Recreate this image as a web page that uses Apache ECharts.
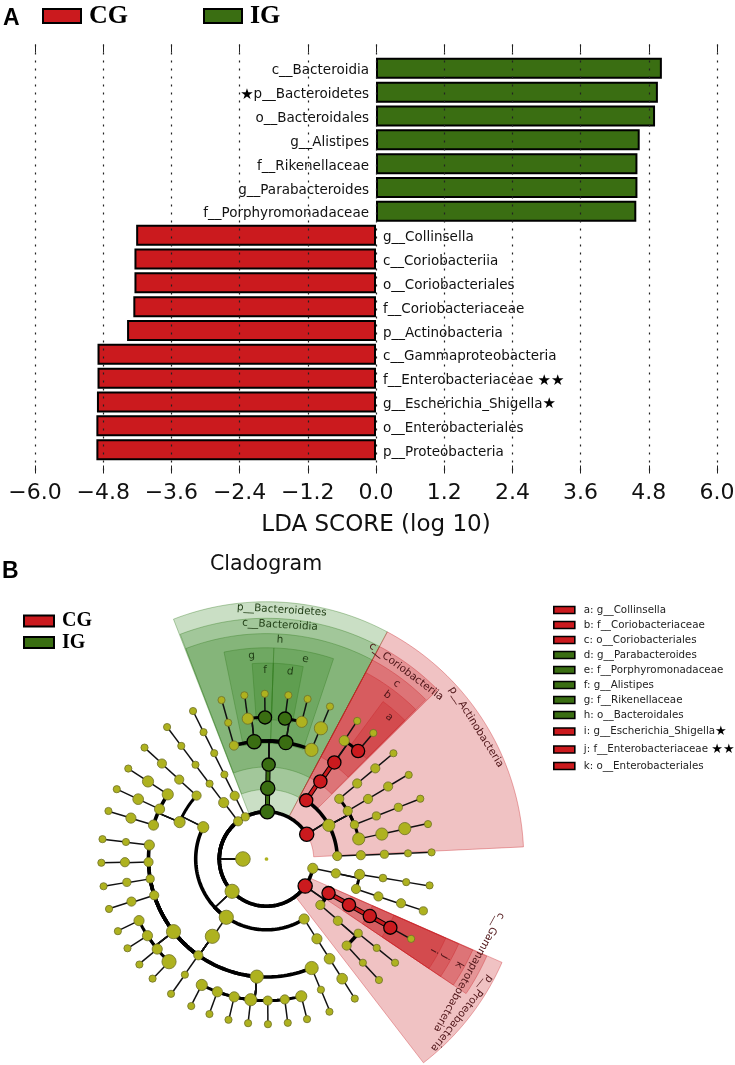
<!DOCTYPE html>
<html>
<head>
<meta charset="utf-8">
<title>LDA score and cladogram</title>
<script src="https://cdn.jsdelivr.net/npm/echarts@6/dist/echarts.min.js"></script>
<style>
html, body { margin: 0; padding: 0; background: #fff; }
#main { width: 735px; height: 1065px; }
</style>
</head>
<body>
<div id="main"></div>
<script>
// panel A
var barNames = ["c__Bacteroidia", "p__Bacteroidetes", "o__Bacteroidales", "g__Alistipes", "f__Rikenellaceae",
	"g__Parabacteroides", "f__Porphyromonadaceae", "g__Collinsella", "c__Coriobacteriia", "o__Coriobacteriales",
	"f__Coriobacteriaceae", "p__Actinobacteria", "c__Gammaproteobacteria", "f__Enterobacteriaceae",
	"g__Escherichia_Shigella", "o__Enterobacteriales", "p__Proteobacteria"];
var barValues = [5.03, 4.96, 4.91, 4.64, 4.60, 4.60, 4.58, -4.22, -4.25, -4.25, -4.27, -4.38, -4.90, -4.90, -4.91, -4.92, -4.92];
var barStars = { "p__Bacteroidetes": 1, "f__Enterobacteriaceae": 2, "g__Escherichia_Shigella": 1 };
var legendGroups = ["CG", "IG"];

// panel B: id, parent, depth, angle (clockwise from north, 90..450), abundance, group
var cladeNodes = [
	["top", null, 0, 270, 2.5, "y"], ["r0", null, 1, 270, 13.5, "y"],
	["a1", "r0", 2, 226.8, 13, "y"], ["a2", "r0", 2, 101.4, 9, "y"], ["p1", "r0", 2, 125, 13, "r"],
	["a3", "r0", 2, 323, 8, "y"], ["a4", "r0", 2, 333.3, 7, "y"], ["G1", "r0", 2, 361, 13, "g"], ["A1", "r0", 2, 418.4, 13, "r"],
	// left half
	["b1", "a1", 3, 147.9, 9, "y"], ["b2", "a1", 3, 214.6, 13, "y"], ["b3", "a1", 3, 296.7, 10, "y"],
	["b1a", "b1", 4, 147.7, 9, "y"], ["b1b", "b1a", 5, 147.7, 9.5, "y"], ["b1c", "b1b", 6, 147.7, 9.5, "y"], ["b1d", "b1c", 7, 147.7, 6, "y"],
	["c1", "b2", 4, 215, 13, "y"],
	["d1", "c1", 5, 157.5, 12, "y"], ["d1a", "d1", 6, 157.4, 6, "y"], ["d1b", "d1a", 7, 157.6, 6, "y"],
	["d2", "c1", 5, 184.7, 12, "y"],
	["e1", "d2", 6, 165.8, 10, "y"], ["e2", "d2", 6, 172.6, 8, "y"], ["e3", "d2", 6, 179.5, 8, "y"], ["e4", "d2", 6, 186.4, 11, "y"],
	["e5", "d2", 6, 193.2, 9, "y"], ["e6", "d2", 6, 200.3, 9, "y"], ["e7", "d2", 6, 207.2, 10, "y"],
	["e1a", "e1", 7, 165.8, 6, "y"], ["e2a", "e2", 7, 172.6, 6, "y"], ["e3a", "e3", 7, 179.5, 6, "y"], ["e4a", "e4", 7, 186.4, 6, "y"],
	["e5a", "e5", 7, 193.3, 6, "y"], ["e6a", "e6", 7, 200.2, 6, "y"], ["e7a", "e7", 7, 207.1, 6, "y"],
	["d3", "c1", 5, 215.3, 8, "y"], ["d3a", "d3", 6, 215.2, 6, "y"], ["d3b", "d3a", 7, 215.3, 6, "y"],
	["d4", "c1", 5, 232, 13, "y"],
	["f1", "d4", 6, 223.5, 13, "y"], ["f2", "d4", 6, 230.5, 9, "y"], ["f3", "d4", 6, 237.2, 9, "y"], ["f4", "d4", 6, 244.2, 9, "y"],
	["f1a", "f1", 7, 223.6, 6, "y"], ["f2a", "f2", 7, 230.3, 6, "y"], ["f3a", "f3", 7, 237.3, 6, "y"], ["f4a", "f4", 7, 244.1, 6, "y"],
	["d5", "c1", 5, 252.1, 8, "y"], ["d5a", "d5", 6, 252.5, 8, "y"], ["d5b", "d5a", 7, 252.4, 6, "y"],
	["d6", "c1", 5, 260.3, 7, "y"], ["d6a", "d6", 6, 260.5, 7, "y"], ["d6b", "d6a", 7, 260.5, 6, "y"],
	["d7", "c1", 5, 268.5, 8, "y"], ["d7a", "d7", 6, 268.7, 8, "y"], ["d7b", "d7a", 7, 268.7, 6, "y"],
	["d8", "c1", 5, 276.8, 9, "y"], ["d8a", "d8", 6, 276.9, 6, "y"], ["d8b", "d8a", 7, 276.9, 6, "y"],
	["h1", "b3", 4, 293, 10, "y"], ["h2", "b3", 4, 312.2, 8, "y"],
	["i1", "h1", 5, 286.7, 9, "y"], ["i1a", "i1", 6, 286.8, 9, "y"], ["i1b", "i1a", 7, 286.9, 6, "y"],
	["i2", "h1", 5, 295, 9, "y"], ["i2a", "i2", 6, 295, 9.5, "y"], ["i2b", "i2a", 7, 295, 6, "y"],
	["i3", "h1", 5, 303.2, 10, "y"], ["i3a", "i3", 6, 303.2, 10, "y"], ["i3b", "i3a", 7, 303.2, 6, "y"],
	["j1", "h2", 5, 312.3, 8, "y"], ["j2", "j1", 6, 312.4, 8, "y"], ["j3", "j2", 7, 312.4, 6, "y"],
	["k1", "a3", 3, 322.8, 9, "y"], ["k2", "k1", 4, 322.9, 6, "y"], ["k3", "k2", 5, 323, 6, "y"], ["k4", "k3", 6, 323, 6, "y"], ["k5", "k4", 7, 323, 6, "y"],
	["l1", "a4", 3, 333.3, 8, "y"], ["l2", "l1", 4, 333.5, 6, "y"], ["l3", "l2", 5, 333.7, 6, "y"], ["l4", "l3", 6, 333.6, 6, "y"], ["l5", "l4", 7, 333.6, 6, "y"],
	// Bacteroidetes
	["G2", "G1", 3, 361, 13, "g"], ["G3", "G2", 4, 361.3, 12, "g"],
	["m1", "G3", 5, 344, 8, "y"], ["m1a", "m1", 6, 344.3, 6, "y"], ["m1b", "m1a", 7, 344.2, 6, "y"],
	["G4", "G3", 5, 354, 13, "g"], ["n1", "G4", 6, 352.4, 10, "y"], ["n1a", "n1", 7, 352.3, 6, "y"], ["n2", "G4", 6, 359.4, 12, "g"], ["n2a", "n2", 7, 359.4, 6, "y"],
	["G5", "G3", 5, 369.4, 13, "g"], ["n3", "G5", 6, 367.5, 12, "g"], ["n3a", "n3", 7, 367.6, 6, "y"], ["n4", "G5", 6, 374.4, 10, "y"], ["n4a", "n4", 7, 374.4, 6, "y"],
	["m2", "G3", 5, 382.4, 12, "y"], ["m2a", "m2", 6, 382.6, 12, "y"], ["m2b", "m2a", 7, 382.6, 6, "y"],
	// Actinobacteria
	["A2", "A1", 3, 394.1, 12, "r"], ["A3", "A2", 4, 394.8, 12, "r"], ["A4", "A3", 5, 395.1, 12, "r"],
	["o1", "A4", 6, 393.3, 9, "y"], ["o1a", "o1", 7, 393.3, 6, "y"], ["A5", "A4", 6, 400.3, 12, "r"], ["o2", "A5", 7, 400.3, 6, "y"],
	["q1", "A1", 3, 421.6, 11, "y"],
	["q2", "q1", 4, 410.4, 8, "y"], ["q2a", "q2", 5, 410.2, 8, "y"], ["q2b", "q2a", 6, 410.2, 8, "y"], ["q2c", "q2b", 7, 410.2, 6, "y"],
	["q3", "q1", 4, 419.4, 8, "y"], ["q3a", "q3", 5, 419.4, 8, "y"], ["q3b", "q3a", 6, 419.2, 8, "y"], ["q3c", "q3b", 7, 419.4, 6, "y"],
	["q4", "q1", 4, 428.7, 7, "y"], ["q4a", "q4", 5, 428.6, 7, "y"], ["q4b", "q4a", 6, 428.6, 7, "y"], ["q4c", "q4b", 7, 428.6, 6, "y"],
	["q5", "q1", 4, 437.7, 11, "y"], ["q5a", "q5", 5, 437.8, 11, "y"], ["q5b", "q5a", 6, 437.6, 11, "y"], ["q5c", "q5b", 7, 437.8, 6, "y"],
	["s1", "A1", 3, 447.6, 8, "y"], ["s2", "s1", 4, 447.7, 8, "y"], ["s3", "s2", 5, 447.7, 7, "y"], ["s4", "s3", 6, 447.7, 6, "y"], ["s5", "s4", 7, 447.7, 6, "y"],
	// right lower
	["t1", "a2", 3, 101.7, 8, "y"], ["t2", "t1", 4, 99.4, 9, "y"], ["t2a", "t2", 5, 99.3, 6.5, "y"], ["t2b", "t2a", 6, 99.4, 6, "y"], ["t2c", "t2b", 7, 99.2, 6, "y"],
	["t3", "t1", 4, 108.5, 8, "y"], ["t3a", "t3", 5, 108.5, 8, "y"], ["t3b", "t3a", 6, 108.2, 8, "y"], ["t3c", "t3b", 7, 108.3, 7, "y"],
	// Proteobacteria
	["P2", "p1", 3, 118.8, 12, "r"], ["P3", "P2", 4, 119.1, 12, "r"], ["P4", "P3", 5, 118.9, 12, "r"], ["P5", "P4", 6, 119, 12, "r"], ["u0", "P5", 7, 118.9, 6, "y"],
	["u1", "p1", 3, 130.5, 8, "y"], ["u2", "u1", 4, 130.9, 8, "y"],
	["u3", "u2", 5, 129, 7, "y"], ["u3a", "u3", 6, 128.9, 6, "y"], ["u3b", "u3a", 7, 128.9, 6, "y"],
	["u4", "u2", 5, 137.2, 8, "y"], ["u4a", "u4", 6, 137.1, 6, "y"], ["u4b", "u4a", 7, 137.1, 6, "y"]
];

// label, legend name, inner depth, outer depth, from angle, to angle, group, label depth, label angle
var cladeWedges = [
	["p__Bacteroidetes", "", 2, 10.9, 338.8, 388, "g", 10.57, 363.5],
	["c__Bacteroidia", "", 2.95, 10.2, 339, 388, "g", 9.93, 363.3],
	["h", "h: o__Bacteroidales", 3.9, 9.55, 339, 388, "g", 9.3, 363.5],
	["g", "g: f__Rikenellaceae", 4.9, 8.95, 348.4, 362, "g", 8.63, 355.8],
	["e", "e: f__Porphyromonadaceae", 4.9, 8.95, 362, 378.5, "g", 8.63, 371],
	["f", "f: g__Alistipes", 5.9, 8.3, 355.8, 362, "g", 8, 359.6],
	["d", "d: g__Parabacteroides", 5.9, 8.3, 362, 370.8, "g", 8, 367.2],
	["p__Actinobacteria", "", 2, 10.9, 388, 447.3, "r", 10.5, 417.8],
	["c__Coriobacteriia", "", 2.95, 10.2, 388, 405.3, "r", 9.9, 396.7],
	["c", "c: o__Coriobacteriales", 3.9, 9.55, 388, 405, "r", 9.25, 396.6],
	["b", "b: f__Coriobacteriaceae", 4.9, 8.95, 388, 405, "r", 8.63, 396.4],
	["a", "a: g__Collinsella", 6, 8.3, 396.5, 405, "r", 7.95, 400.9],
	["p__Proteobacteria", "", 2, 10.9, 113.7, 142.4, "r", 10.55, 128.3],
	["c__Gammaproteobacteria", "", 2.95, 10.2, 113.8, 124, "r", 9.83, 119.2],
	["k", "k: o__Enterobacteriales", 3.9, 9.55, 113.8, 124, "r", 9.3, 118.8],
	["j", "j: f__Enterobacteriaceae", 4.9, 8.9, 113.8, 124, "r", 8.63, 118.8],
	["i", "i: g__Escherichia_Shigella", 5.9, 8.3, 113.8, 124, "r", 8.07, 118.8]
];
var cladeLegend = ["a: g__Collinsella", "b: f__Coriobacteriaceae", "c: o__Coriobacteriales", "d: g__Parabacteroides",
	"e: f__Porphyromonadaceae", "f: g__Alistipes", "g: f__Rikenellaceae", "h: o__Bacteroidales",
	"i: g__Escherichia_Shigella", "j: f__Enterobacteriaceae", "k: o__Enterobacteriales"];
var cladeStars = { "i: g__Escherichia_Shigella": "{s|★}", "j: f__Enterobacteriaceae": " {s|★★}" };

var RED = "#cb1a1e", GREEN = "#3a6e12", OLIVE = "#aeb21f";
var groupColor = { r: RED, g: GREEN, y: OLIVE };
var wedgeFill = { r: "rgba(200,30,35,0.27)", g: "rgba(50,130,30,0.26)" };
var wedgeEdge = { r: "rgba(200,30,35,0.35)", g: "rgba(50,120,30,0.35)" };
var wedgeText = { r: "#4f1518", g: "#1f3d14" };

var byId = {};
cladeNodes.forEach(function (n) { byId[n[0]] = n; });

function barLabel(params) {
	var name = params.name, n = barStars[name];
	if (!n) return name;
	if (params.value > 0) return "{s|★}" + name;
	return n == 2 ? name + " {s|★★}" : name + "{s|★}";
}

function barSeries(name, color, keep, pos) {
	return {
		name: name, type: "bar", stack: "lda", barWidth: 21,
		xAxisIndex: 0, yAxisIndex: 0,
		itemStyle: { color: color, borderColor: "#000", borderWidth: 2 },
		label: {
			show: true, position: pos, distance: 7, color: "#111", fontSize: 13.5, offset: [0, 2.5],
			fontFamily: "DejaVu Sans", formatter: barLabel,
			rich: { s: { fontSize: 15, color: "#000", fontFamily: "DejaVu Sans" } }
		},
		data: [null].concat(barValues.map(function (v) { return keep(v) ? v : null; }), [null])
	};
}

function renderWedge(w) {
	return function (params, api) {
		var pts = [], a;
		for (a = w[4]; a < w[5]; a += 1.5) pts.push(api.coord([w[3], a]));
		pts.push(api.coord([w[3], w[5]]));
		for (a = w[5]; a > w[4]; a -= 1.5) pts.push(api.coord([w[2], a]));
		pts.push(api.coord([w[2], w[4]]));
		var at = api.coord([w[7], w[8]]);
		return {
			type: "group",
			children: [
				{ type: "polygon", shape: { points: pts }, style: { fill: wedgeFill[w[6]], stroke: wedgeEdge[w[6]], lineWidth: 1 } },
				{
					type: "text", x: at[0], y: at[1], rotation: -w[8] * Math.PI / 180,
					style: { text: w[0], fill: wedgeText[w[6]], fontSize: 10.5, fontFamily: "DejaVu Sans", textAlign: "center", textVerticalAlign: "middle" }
				}
			]
		};
	};
}

// radial out of the parent, then along the ring of the child
function renderLink(params, api) {
	var n = cladeNodes[api.value(2)], p = byId[n[1]];
	if (!p) return null;
	var kids = [];
	var pa = p[3], ca = n[3], d = n[2];
	var chain = Math.abs(pa - ca) < 1.5 && n[5] != "y" && p[5] != "y";
	var radial = [api.coord([p[2], pa]), api.coord([d, pa])];
	if (chain) {
		kids.push({ type: "polyline", shape: { points: radial }, style: { stroke: "#000", lineWidth: 5, fill: null } });
		kids.push({ type: "polyline", shape: { points: radial }, style: { stroke: groupColor[n[5]], lineWidth: 3, fill: null } });
	} else {
		kids.push({ type: "polyline", shape: { points: radial }, style: { stroke: "#111", lineWidth: 1.5, fill: null } });
	}
	if (Math.abs(pa - ca) >= 0.6) {
		var pts = [], step = ca > pa ? 1.5 : -1.5, a;
		for (a = pa; (ca - a) * step > 0; a += step) pts.push(api.coord([d, a]));
		pts.push(api.coord([d, ca]));
		kids.push({
			type: "polyline", shape: { points: pts },
			style: { stroke: "#000", lineWidth: d == 4 || d == 6 ? 3 : 3.6, fill: null, lineCap: "round" }
		});
	}
	return { type: "group", children: kids };
}

var series = [
	barSeries("CG", RED, function (v) { return v < 0; }, "right"),
	barSeries("IG", GREEN, function (v) { return v > 0; }, "left")
];

cladeWedges.forEach(function (w, i) {
	series.push({
		name: w[1] || w[0], type: "custom", coordinateSystem: "polar", z: 1 + i * 0.01, silent: true,
		itemStyle: { color: groupColor[w[6]] },
		renderItem: renderWedge(w),
		data: [[w[3], w[4]]]
	});
});

series.push({
	name: "links", type: "custom", coordinateSystem: "polar", z: 3, silent: true,
	renderItem: renderLink,
	data: cladeNodes.map(function (n, i) { return [n[2], n[3], i]; })
});

series.push({
	name: "nodes", type: "scatter", coordinateSystem: "polar", z: 4, silent: true,
	symbolSize: function (v) { return v[2] + 1.2; },
	data: cladeNodes.map(function (n) {
		return {
			value: [n[2], n[3], n[4]],
			itemStyle: {
				color: groupColor[n[5]], opacity: 1,
				borderColor: n[5] == "y" ? "#6f7028" : "#000",
				borderWidth: n[5] == "y" ? (n[2] == 0 ? 0 : 0.8) : 1.3
			}
		};
	})
});

var chart = echarts.init(document.getElementById("main"), null, { renderer: "canvas" });
chart.setOption({
	animation: false,
	backgroundColor: "#fff",
	textStyle: { fontFamily: "DejaVu Sans" },
	title: {
		text: "Cladogram", left: 205, top: 549,
		textStyle: { fontSize: 20.5, fontWeight: "normal", color: "#111", fontFamily: "DejaVu Sans" }
	},
	legend: [
		{
			data: legendGroups, icon: "rect", left: 42, top: 3, padding: 0, itemGap: 75, itemWidth: 38, itemHeight: 14, selectedMode: false,
			itemStyle: { borderColor: "#000", borderWidth: 2 },
			textStyle: { fontFamily: "Liberation Serif", fontWeight: "bold", fontSize: 26, color: "#000", padding: [0, 0, 0, 3] }
		},
		{
			data: legendGroups, icon: "rect", orient: "vertical", left: 23, top: 611, padding: 0, itemGap: 1.5, itemWidth: 30, itemHeight: 11, selectedMode: false,
			itemStyle: { borderColor: "#000", borderWidth: 2 },
			textStyle: { fontFamily: "Liberation Serif", fontWeight: "bold", fontSize: 20, color: "#000", padding: [0, 0, 0, 3] }
		},
		{
			data: cladeLegend, icon: "rect", orient: "vertical", left: 553, top: 605, padding: 0, itemGap: 5, itemWidth: 21, itemHeight: 7, selectedMode: false,
			itemStyle: { borderColor: "#000", borderWidth: 1.6 },
			textStyle: {
				fontFamily: "DejaVu Sans", fontSize: 10.3, color: "#222", padding: [0, 0, 0, 4],
				rich: { s: { fontSize: 13, color: "#000", fontFamily: "DejaVu Sans", lineHeight: 11 } }
			},
			formatter: function (name) { return name + (cladeStars[name] || ""); }
		}
	],
	grid: { left: 35, width: 682, top: 44.5, height: 429, outerBoundsMode: "none" },
	xAxis: [
		{
			type: "value", position: "bottom", min: -6, max: 6, interval: 1.2, z: 3,
			axisLine: { show: false },
			axisTick: { show: true, inside: true, length: 8, lineStyle: { color: "#222", width: 1 } },
			splitLine: { show: true, lineStyle: { color: "#222", type: [2, 6], width: 1.2 } },
			axisLabel: {
				color: "#111", fontSize: 22, margin: 9,
				formatter: function (v) { return (v < 0 ? "−" : "") + Math.abs(v).toFixed(1); }
			},
			name: "LDA SCORE (log 10)", nameLocation: "middle", nameGap: 40,
			nameTextStyle: { fontSize: 23, color: "#111" }
		},
		{
			type: "value", position: "top", min: -6, max: 6, interval: 1.2, z: 3,
			axisLine: { show: false },
			axisTick: { show: true, inside: true, length: 8, lineStyle: { color: "#222", width: 1 } },
			splitLine: { show: false },
			axisLabel: { show: false }
		}
	],
	yAxis: {
		type: "category", inverse: true, boundaryGap: false, show: false,
		data: [""].concat(barNames, [" "])
	},
	polar: { center: [266.5, 859], radius: [0, 259.6] },
	radiusAxis: { type: "value", min: 0, max: 11, show: false },
	angleAxis: { type: "value", min: 90, max: 450, startAngle: 0, clockwise: true, show: false },
	graphic: [
		{ type: "text", left: 3, top: 7, style: { text: "A", fontSize: 23, fontWeight: "bold", fontFamily: "Liberation Sans", fill: "#000" } },
		{ type: "text", left: 2, top: 560, style: { text: "B", fontSize: 23, fontWeight: "bold", fontFamily: "Liberation Sans", fill: "#000" } }
	],
	series: series
});
</script>
</body>
</html>
